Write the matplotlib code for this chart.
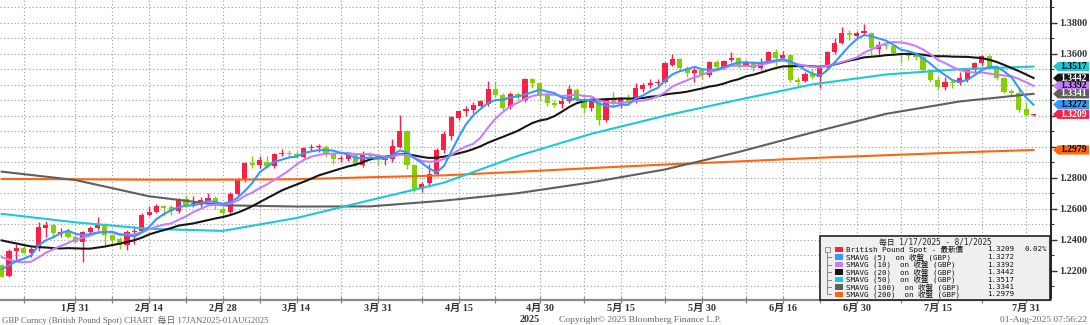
import numpy as np
import pandas as pd
import matplotlib
matplotlib.use("Agg")
import matplotlib.pyplot as plt
from matplotlib.patches import Rectangle, Polygon

# ---------------- data ----------------
dates = pd.bdate_range("2025-01-17", "2025-08-01")

opens = [
    1.2238, 1.2169, 1.2328, 1.2345, 1.2313, 1.2345, 1.2477, 1.2496, 1.2440, 1.2453,
    1.2420, 1.2388, 1.2448, 1.2478, 1.2500, 1.2431, 1.2405, 1.2367, 1.2448, 1.2458,
    1.2561, 1.2581, 1.2619, 1.2608, 1.2583, 1.2662, 1.2628, 1.2626, 1.2652, 1.2669,
    1.2600, 1.2576, 1.2695, 1.2791, 1.2892, 1.2882, 1.2903, 1.2877, 1.2950, 1.2962,
    1.2953, 1.2932, 1.2993, 1.2995, 1.3000, 1.2958, 1.2918, 1.2920, 1.2946, 1.2885,
    1.2950, 1.2942, 1.2917, 1.2918, 1.3000, 1.3102, 1.2881, 1.2725, 1.2763, 1.2826,
    1.2976, 1.3070, 1.3187, 1.3228, 1.3234, 1.3262, 1.3275, 1.3374, 1.3331, 1.3256,
    1.3342, 1.3299, 1.3439, 1.3411, 1.3331, 1.3280, 1.3275, 1.3295, 1.3366, 1.3310,
    1.3247, 1.3292, 1.3172, 1.3307, 1.3273, 1.3312, 1.3290, 1.3371, 1.3395, 1.3410,
    1.3419, 1.3530, 1.3566, 1.3505, 1.3473, 1.3495, 1.3462, 1.3544, 1.3516, 1.3559,
    1.3570, 1.3527, 1.3548, 1.3505, 1.3548, 1.3613, 1.3570, 1.3591, 1.3430, 1.3424,
    1.3467, 1.3447, 1.3516, 1.3613, 1.3667, 1.3731, 1.3715, 1.3731, 1.3735, 1.3628,
    1.3656, 1.3650, 1.3605, 1.3600, 1.3590, 1.3580, 1.3495, 1.3430, 1.3387, 1.3420,
    1.3413, 1.3430, 1.3495, 1.3538, 1.3585, 1.3516, 1.3441, 1.3361, 1.3348, 1.3241,
    1.3205]

highs = [
    1.2245, 1.2340, 1.2370, 1.2372, 1.2350, 1.2517, 1.2522, 1.2505, 1.2475, 1.2475,
    1.2440, 1.2455, 1.2490, 1.2545, 1.2510, 1.2440, 1.2415, 1.2460, 1.2490, 1.2575,
    1.2619, 1.2628, 1.2625, 1.2626, 1.2670, 1.2688, 1.2684, 1.2673, 1.2699, 1.2685,
    1.2610, 1.2705, 1.2800, 1.2900, 1.2942, 1.2942, 1.2942, 1.2960, 1.2988, 1.2980,
    1.2970, 1.3000, 1.3020, 1.3015, 1.3010, 1.2965, 1.2945, 1.2960, 1.2960, 1.2970,
    1.2965, 1.2955, 1.2940, 1.3050, 1.3203, 1.3110, 1.2890, 1.2770, 1.2890, 1.2990,
    1.3100, 1.3200, 1.3240, 1.3260, 1.3290, 1.3300, 1.3424, 1.3424, 1.3345, 1.3350,
    1.3350, 1.3445, 1.3445, 1.3420, 1.3345, 1.3300, 1.3320, 1.3400, 1.3380, 1.3330,
    1.3310, 1.3300, 1.3315, 1.3355, 1.3320, 1.3340, 1.3410, 1.3410, 1.3440, 1.3440,
    1.3545, 1.3596, 1.3570, 1.3520, 1.3516, 1.3510, 1.3550, 1.3560, 1.3560, 1.3613,
    1.3580, 1.3560, 1.3555, 1.3570, 1.3620, 1.3630, 1.3615, 1.3600, 1.3450, 1.3480,
    1.3500, 1.3525, 1.3620, 1.3699, 1.3774, 1.3750, 1.3745, 1.3791, 1.3740, 1.3680,
    1.3670, 1.3660, 1.3610, 1.3610, 1.3610, 1.3590, 1.3500, 1.3455, 1.3450, 1.3440,
    1.3480, 1.3500, 1.3545, 1.3590, 1.3590, 1.3525, 1.3450, 1.3375, 1.3370, 1.3290,
    1.3212]

lows = [
    1.2160, 1.2160, 1.2260, 1.2305, 1.2290, 1.2330, 1.2420, 1.2420, 1.2415, 1.2410,
    1.2380, 1.2253, 1.2430, 1.2465, 1.2367, 1.2380, 1.2340, 1.2335, 1.2375, 1.2450,
    1.2555, 1.2570, 1.2555, 1.2561, 1.2575, 1.2613, 1.2609, 1.2609, 1.2643, 1.2600,
    1.2548, 1.2560, 1.2680, 1.2770, 1.2860, 1.2860, 1.2860, 1.2860, 1.2940, 1.2935,
    1.2925, 1.2925, 1.2975, 1.2965, 1.2935, 1.2890, 1.2900, 1.2910, 1.2875, 1.2870,
    1.2915, 1.2880, 1.2880, 1.2900, 1.2990, 1.2859, 1.2708, 1.2710, 1.2740, 1.2820,
    1.2960, 1.3045, 1.3170, 1.3200, 1.3220, 1.3255, 1.3265, 1.3320, 1.3240, 1.3245,
    1.3300, 1.3290, 1.3380, 1.3300, 1.3260, 1.3255, 1.3250, 1.3285, 1.3290, 1.3220,
    1.3230, 1.3140, 1.3160, 1.3260, 1.3250, 1.3280, 1.3280, 1.3350, 1.3380, 1.3390,
    1.3410, 1.3520, 1.3490, 1.3450, 1.3419, 1.3440, 1.3450, 1.3500, 1.3500, 1.3548,
    1.3510, 1.3520, 1.3490, 1.3495, 1.3540, 1.3523, 1.3555, 1.3420, 1.3400, 1.3415,
    1.3440, 1.3376, 1.3510, 1.3600, 1.3660, 1.3690, 1.3700, 1.3720, 1.3591, 1.3600,
    1.3630, 1.3590, 1.3540, 1.3560, 1.3560, 1.3480, 1.3420, 1.3375, 1.3365, 1.3380,
    1.3400, 1.3420, 1.3480, 1.3520, 1.3500, 1.3430, 1.3345, 1.3330, 1.3225, 1.3195,
    1.3200]

closes = [
    1.2162, 1.2328, 1.2345, 1.2317, 1.2340, 1.2485, 1.2495, 1.2442, 1.2448, 1.2420,
    1.2388, 1.2448, 1.2478, 1.2500, 1.2431, 1.2400, 1.2367, 1.2448, 1.2458, 1.2561,
    1.2581, 1.2619, 1.2606, 1.2583, 1.2662, 1.2626, 1.2635, 1.2658, 1.2669, 1.2626,
    1.2570, 1.2695, 1.2791, 1.2892, 1.2882, 1.2914, 1.2873, 1.2950, 1.2962, 1.2953,
    1.2940, 1.2993, 1.3000, 1.3002, 1.2958, 1.2918, 1.2925, 1.2946, 1.2885, 1.2950,
    1.2940, 1.2917, 1.2920, 1.3003, 1.3100, 1.2881, 1.2730, 1.2762, 1.2825, 1.2976,
    1.3084, 1.3191, 1.3230, 1.3241, 1.3267, 1.3295, 1.3374, 1.3331, 1.3249, 1.3342,
    1.3320, 1.3439, 1.3411, 1.3330, 1.3280, 1.3270, 1.3295, 1.3370, 1.3310, 1.3247,
    1.3292, 1.3172, 1.3303, 1.3273, 1.3312, 1.3290, 1.3378, 1.3399, 1.3413, 1.3415,
    1.3538, 1.3566, 1.3505, 1.3473, 1.3495, 1.3462, 1.3544, 1.3516, 1.3555, 1.3574,
    1.3527, 1.3548, 1.3505, 1.3548, 1.3613, 1.3570, 1.3591, 1.3430, 1.3419, 1.3467,
    1.3452, 1.3516, 1.3613, 1.3667, 1.3731, 1.3720, 1.3735, 1.3746, 1.3634, 1.3656,
    1.3650, 1.3602, 1.3590, 1.3585, 1.3580, 1.3495, 1.3430, 1.3387, 1.3419, 1.3413,
    1.3440, 1.3495, 1.3538, 1.3585, 1.3516, 1.3441, 1.3355, 1.3348, 1.3237, 1.3204,
    1.3209]

# closes before the first visible day (feed the short moving averages)
prior_closes = [1.2535, 1.2530, 1.2520, 1.2520, 1.2570, 1.2550, 1.2515, 1.2500,
                1.2375, 1.2420, 1.2480, 1.2480, 1.2360, 1.2300, 1.2205, 1.2200,
                1.2210, 1.2240, 1.2235]

# long moving averages every 10 sessions
ma_idx = [0, 10, 20, 30, 40, 50, 60, 70, 80, 90, 100, 110, 120, 130, 140]
sma50 = [1.2567, 1.2512, 1.2470, 1.2457, 1.2540, 1.2655, 1.2768, 1.2940,
         1.3083, 1.3200, 1.3303, 1.3402, 1.3466, 1.3500, 1.3517]
sma100 = [1.2839, 1.2785, 1.2680, 1.2622, 1.2614, 1.2615, 1.2652, 1.2700,
          1.2770, 1.2853, 1.2966, 1.3092, 1.3212, 1.3292, 1.3341]
sma200 = [1.2792, 1.2790, 1.2787, 1.2787, 1.2790, 1.2803, 1.2815, 1.2838,
          1.2862, 1.2885, 1.2905, 1.2927, 1.2945, 1.2963, 1.2979]

major_dates = ["2025-01-31", "2025-02-14", "2025-02-28", "2025-03-14", "2025-03-31",
               "2025-04-15", "2025-04-30", "2025-05-15", "2025-05-30", "2025-06-16",
               "2025-06-30", "2025-07-15", "2025-07-31"]
major_labels = ["1月 31", "2月 14", "2月 28", "3月 14", "3月 31", "4月 15", "4月 30",
                "5月 15", "5月 30", "6月 16", "6月 30", "7月 15", "7月 31"]
minor_dates = ["2025-01-22", "2025-02-07", "2025-02-21", "2025-03-07", "2025-03-24",
               "2025-04-08", "2025-04-22", "2025-05-08", "2025-05-23", "2025-06-09",
               "2025-06-23", "2025-07-08", "2025-07-23"]

legend_names = ["British Pound Spot - 最新價", "SMAVG (5)  on 收盤 (GBP)",
                "SMAVG (10)  on 收盤 (GBP)", "SMAVG (20)  on 收盤 (GBP)",
                "SMAVG (50)  on 收盤 (GBP)", "SMAVG (100)  on 收盤 (GBP)",
                "SMAVG (200)  on 收盤 (GBP)"]
legend_values = ["1.3209", "1.3272", "1.3392", "1.3442", "1.3517", "1.3341", "1.2979"]
tag_values = [1.3517, 1.3442, 1.3392, 1.3341, 1.3272, 1.3209, 1.2979]

# ---------------- styling ----------------
UP = "#ff1f45"
DOWN = "#86cf00"
C5, C10, C20, C50, C100, C200 = "#3399ff", "#c77dff", "#161616", "#1cc9d6", "#5f5f5f", "#ff6510"
SERIF = ["Liberation Serif", "Noto Sans CJK JP"]
MONO = ["DejaVu Sans Mono", "Noto Sans CJK JP"]

W, H = 1090, 325
fig = plt.figure(figsize=(W / 100, H / 100), dpi=100)
fig.patch.set_facecolor("white")

AX_R, AX_B = 1051, 300          # pixel right edge / bottom edge of plot
ax = fig.add_axes([0, (H - AX_B) / H, AX_R / W, AX_B / H])
ax.set_facecolor("white")

x = np.arange(len(dates))
ser = pd.Series(prior_closes + closes)
sma5 = ser.rolling(5).mean().values[len(prior_closes):]
sma10 = ser.rolling(10).mean().values[len(prior_closes):]
sma20 = ser.rolling(20).mean().values[len(prior_closes):]

# grid
for v in np.arange(1.21, 1.395, 0.01):
    ax.axhline(v, color="#9a9a9a", lw=0.8, ls=(0, (1, 2.2)), zorder=0)
didx = {d: i for i, d in enumerate(dates.strftime("%Y-%m-%d"))}
maj_pos = [didx[d] for d in major_dates]
min_pos = [didx[d] for d in minor_dates]
for p in maj_pos + min_pos:
    ax.axvline(p, color="#9a9a9a", lw=0.8, ls=(0, (1, 2.2)), zorder=0)

# candles
bw = 0.70
for i in range(len(dates)):
    o, h, l, c = opens[i], highs[i], lows[i], closes[i]
    col = UP if c >= o else DOWN
    ax.vlines(i, l, h, color=col, lw=1.0, zorder=2)
    bot = min(o, c)
    ht = max(abs(c - o), 0.00035)
    ax.add_patch(Rectangle((i - bw / 2, bot), bw, ht, facecolor=col,
                           edgecolor="none", zorder=2.1))

# moving averages
ax.plot(ma_idx, sma200, color=C200, lw=1.5, zorder=3)
ax.plot(ma_idx, sma100, color=C100, lw=1.5, zorder=3)
ax.plot(ma_idx, sma50, color=C50, lw=1.5, zorder=3)
ax.plot(x, sma20, color=C20, lw=1.5, zorder=3.1)
ax.plot(x, sma10, color=C10, lw=1.5, zorder=3.2)
ax.plot(x, sma5, color=C5, lw=1.5, zorder=3.3)

# limits
PPU = 1550.0
y_top = 1.38 + 22.7 / PPU
y_bot = 1.38 - (AX_B - 22.7) / PPU
ax.set_ylim(y_bot, y_top)
SPX = 7.37
ax.set_xlim((0 - 1.7) / SPX, (AX_R - 1.7) / SPX)

# axes cosmetics
for s in ["top", "left"]:
    ax.spines[s].set_visible(False)
ax.spines["right"].set_color("#222222")
ax.spines["right"].set_linewidth(1.4)
ax.spines["bottom"].set_color("#8a8a8a")
ax.spines["bottom"].set_linewidth(1.6)

ax.yaxis.tick_right()
yt = np.round(np.arange(1.22, 1.381, 0.02), 2)
ax.set_yticks(yt)
ax.set_yticklabels(["" if v in (1.30, 1.32, 1.34) else f"{v:.4f}" for v in yt],
                   fontfamily=SERIF, fontsize=7.3, fontweight="bold", color="#333333")
ax.set_yticks(np.round(np.arange(1.21, 1.391, 0.01), 2), minor=True)
ax.tick_params(axis="y", which="major", length=4, width=1.0, color="#333333", pad=2)
ax.tick_params(axis="y", which="minor", length=2, width=0.8, color="#333333")

ax.set_xticks(maj_pos)
ax.set_xticklabels(major_labels, fontfamily=SERIF, fontsize=7.3, fontweight="bold",
                   color="#333333")
ax.set_xticks(min_pos, minor=True)
ax.tick_params(axis="x", which="both", direction="inout", length=4, width=0.9,
               color="#7a7a7a", pad=0.5)

# year label under 4月30
ax.text(didx["2025-04-30"] - 1.3, y_bot - 15.5 / PPU, "2025", transform=ax.transData,
        va="top", ha="center", fontsize=7.3, fontweight="bold", color="#333333",
        fontfamily=SERIF)

# value tags on right
ytr = ax.get_yaxis_transform()
tag_fc = [C50, C20, C10, C100, C5, UP, C200]
tag_tc = ["black", "white", "black", "white", "black", "white", "black"]
x0, xa, x1 = 1053 / AX_R, 1058 / AX_R, 1089 / AX_R
hh = 4.6 / PPU
for v, fc, tc in zip(tag_values, tag_fc, tag_tc):
    poly = Polygon([(x0, v), (xa, v + hh), (x1, v + hh), (x1, v - hh), (xa, v - hh)],
                   closed=True, transform=ytr, facecolor=fc, edgecolor="none",
                   clip_on=False, zorder=10)
    ax.add_patch(poly)
    ax.text((xa + x1) / 2, v, f"{v:.4f}", transform=ytr, ha="center", va="center",
            fontsize=7.0, fontfamily=SERIF, fontweight="bold", color=tc,
            clip_on=False, zorder=11)

# legend box (pixel coordinates)
def fx(px):
    return px / W

def fy(py):
    return 1 - py / H

lx0, ly0, lx1, ly1 = 820, 236, 1050, 300
fig.add_artist(Rectangle((fx(lx0), fy(ly1)), fx(lx1) - fx(lx0), fy(ly0) - fy(ly1),
                         transform=fig.transFigure, facecolor="#efefef",
                         edgecolor="#222222", lw=1.2, zorder=20))
fig.text(fx(935), fy(242), "毎日 1/17/2025 - 8/1/2025", ha="center", va="center",
         fontsize=5.6, fontfamily=MONO, color="#222222", zorder=21)
row_y = [249.3, 257.0, 264.6, 272.0, 279.6, 287.0, 294.2]
sw_cols = [UP, C5, C10, C20, C50, C100, C200]
# small tree connector
fig.add_artist(plt.Line2D([fx(827), fx(827)], [fy(250), fy(294)], transform=fig.transFigure,
                          color="#888888", lw=0.7, zorder=21))
for ry in row_y[1:]:
    fig.add_artist(plt.Line2D([fx(827), fx(831)], [fy(ry), fy(ry)], transform=fig.transFigure,
                              color="#888888", lw=0.7, zorder=21))
fig.add_artist(Rectangle((fx(824.5), fy(251.5)), 5 / W, 5 / H, transform=fig.transFigure,
                         facecolor="#efefef", edgecolor="#888888", lw=0.6, zorder=22))
for ry, col, name, val in zip(row_y, sw_cols, legend_names, legend_values):
    fig.add_artist(Rectangle((fx(835), fy(ry + 2.6)), 8 / W, 5.2 / H,
                             transform=fig.transFigure, facecolor=col,
                             edgecolor="none", zorder=21))
    fig.text(fx(846.5), fy(ry), name, ha="left", va="center", fontsize=5.4,
             fontfamily=MONO, color="#111111", zorder=21)
    fig.text(fx(987), fy(ry), val, ha="left", va="center", fontsize=5.4,
             fontfamily=MONO, color="#111111", zorder=21)
fig.text(fx(1047), fy(row_y[0]), "0.02%", ha="right", va="center", fontsize=5.4,
         fontfamily=MONO, color="#111111", zorder=21)

# footer
fig.text(fx(2), fy(320.5), "GBP Curncy (British Pound Spot) CHART  毎日 17JAN2025-01AUG2025",
         ha="left", va="center", fontsize=6.3, fontfamily=SERIF, color="#666666")
fig.text(fx(640), fy(320.5), "Copyright© 2025 Bloomberg Finance L.P.",
         ha="center", va="center", fontsize=6.8, fontfamily=SERIF, color="#666666")
fig.text(fx(1087), fy(320.5), "01-Aug-2025 07:56:22",
         ha="right", va="center", fontsize=6.8, fontfamily=SERIF, color="#666666")

fig.savefig("out.png", dpi=100, facecolor="white")
